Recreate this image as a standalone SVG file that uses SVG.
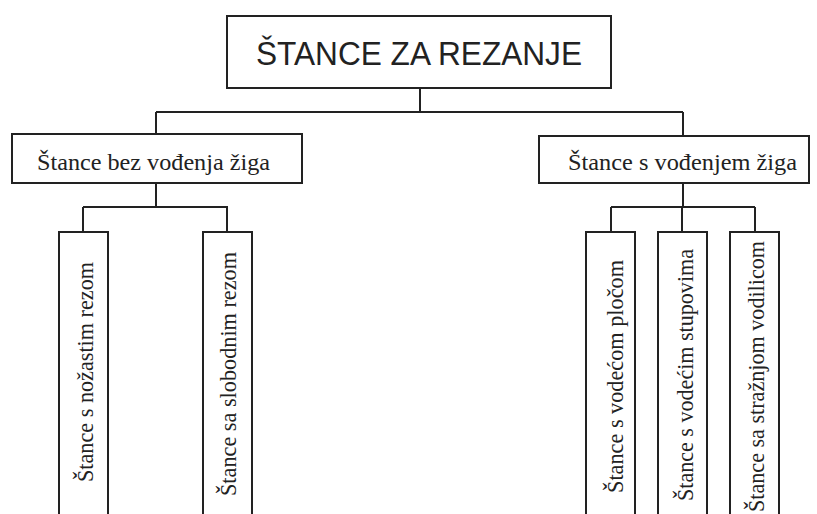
<svg xmlns="http://www.w3.org/2000/svg" width="817" height="514" viewBox="0 0 817 514">
<style>
.box{fill:#fff;stroke:#222;stroke-width:2}
.ln{fill:none;stroke:#222;stroke-width:2}
.t{font-family:"Liberation Serif","Times New Roman",serif;fill:#222}
.v{font-size:24px}
.title{font-family:"Liberation Sans",Arial,sans-serif;fill:#222}
</style>
<rect width="817" height="514" fill="#fff"/>
<g id="connectors">
<path class="ln" d="M420 88V112M156 112H683M156 112V134M683 112V136"/>
<path class="ln" d="M156 183V207M83 207H228M83 207V232M227 207V232"/>
<path class="ln" d="M683 183V207M611 207H755M611 207V232M682 207V232M755 207V232"/>
</g>
<g id="root">
<rect class="box" x="227" y="16" width="384" height="72"/>
<text class="title" x="256" y="65" font-size="34" textLength="326" lengthAdjust="spacingAndGlyphs">ŠTANCE ZA REZANJE</text>
</g>
<g id="left">
<rect class="box" x="12" y="134" width="290" height="49"/>
<text class="t" x="37" y="170" font-size="24" textLength="233" lengthAdjust="spacingAndGlyphs">Štance bez vođenja žiga</text>
</g>
<g id="right">
<rect class="box" x="539" y="136" width="270" height="47"/>
<text class="t" x="568" y="170" font-size="24" textLength="229" lengthAdjust="spacingAndGlyphs">Štance s vođenjem žiga</text>
</g>
<g id="leaf1">
<rect class="box" x="59" y="232" width="49" height="300"/>
<text class="t v" transform="translate(93 482) rotate(-90)" textLength="220" lengthAdjust="spacingAndGlyphs">Štance s nožastim rezom</text>
</g>
<g id="leaf2">
<rect class="box" x="203" y="232" width="49" height="300"/>
<text class="t v" transform="translate(236 496) rotate(-90)" textLength="244" lengthAdjust="spacingAndGlyphs">Štance sa slobodnim rezom</text>
</g>
<g id="leaf3">
<rect class="box" x="586" y="232" width="49" height="300"/>
<text class="t v" transform="translate(623 493) rotate(-90)" textLength="233" lengthAdjust="spacingAndGlyphs">Štance s vodećom pločom</text>
</g>
<g id="leaf4">
<rect class="box" x="658" y="232" width="49" height="300"/>
<text class="t v" transform="translate(693 501) rotate(-90)" textLength="252" lengthAdjust="spacingAndGlyphs">Štance s vodećim stupovima</text>
</g>
<g id="leaf5">
<rect class="box" x="730" y="232" width="49" height="300"/>
<text class="t v" transform="translate(764 512) rotate(-90)" textLength="271" lengthAdjust="spacingAndGlyphs">Štance sa stražnjom vodilicom</text>
</g>
</svg>
